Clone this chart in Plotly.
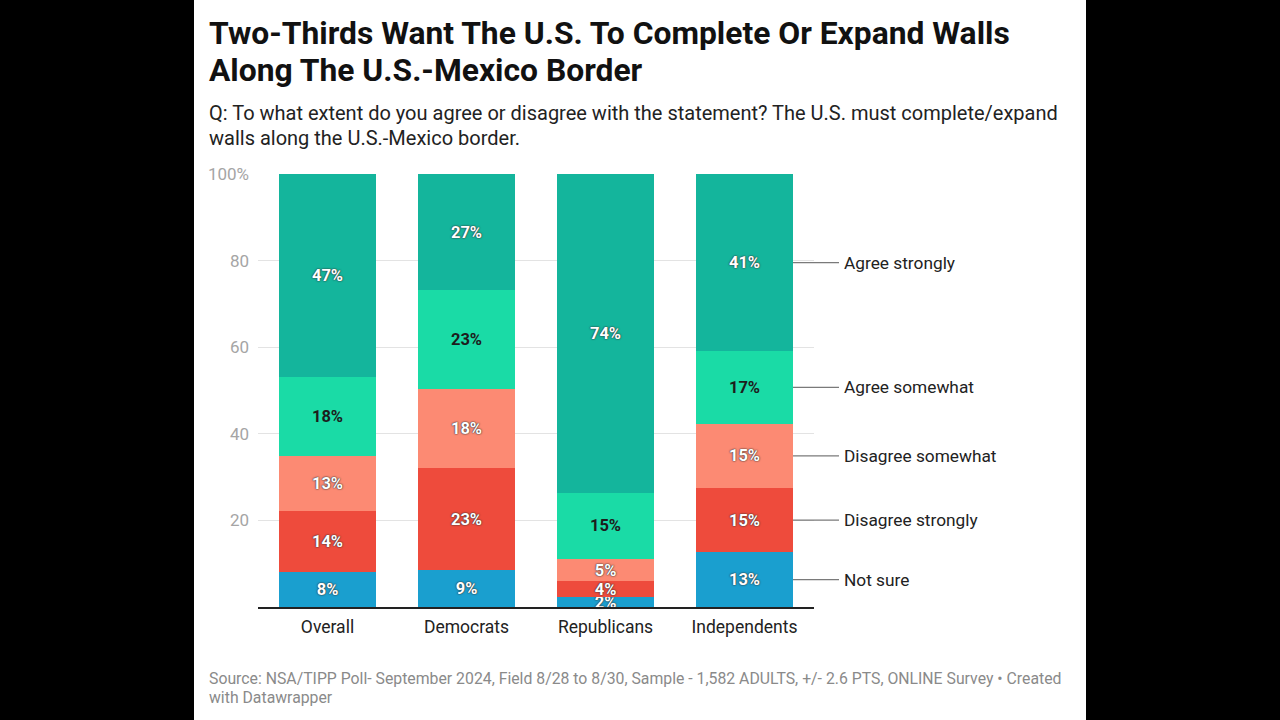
import plotly.graph_objects as go

categories = ["Overall", "Democrats", "Republicans", "Independents"]
series_names = ["Not sure", "Disagree strongly", "Disagree somewhat", "Agree somewhat", "Agree strongly"]
not_sure = [8.1, 8.6, 2.2, 12.6]
disagree_strongly = [14.1, 23.4, 3.7, 14.9]
disagree_somewhat = [12.7, 18.4, 5.2, 14.8]
agree_somewhat = [18.2, 22.8, 15.3, 16.8]
agree_strongly = [46.9, 26.8, 73.6, 40.9]
series_values = [not_sure, disagree_strongly, disagree_somewhat, agree_somewhat, agree_strongly]
colors = ["#1a9fcf", "#ee4b3c", "#fc8a73", "#1adba6", "#14b59c"]
text_colors = ["white", "white", "white", "#1d1d1d", "white"]
tick_vals = [20, 40, 60, 80, 100]
tick_text = ["20", "40", "60", "80", "100%"]

title_lines = ["Two-Thirds Want The U.S. To Complete Or Expand Walls", "Along The U.S.-Mexico Border"]
subtitle_lines = ["Q: To what extent do you agree or disagree with the statement? The U.S. must complete/expand",
                  "walls along the U.S.-Mexico border."]
source_lines = ["Source: NSA/TIPP Poll- September 2024, Field 8/28 to 8/30, Sample - 1,582 ADULTS, +/- 2.6 PTS, ONLINE Survey \u2022 Created",
                "with Datawrapper"]

W, H = 1280, 720
L, R, T, B = 258, 814, 174, 607
pw, ph = R - L, B - T
BARGAP = 0.302
XR = [-0.5, len(categories) - 0.5]

def px_x(p):
    return (p - L) / pw

def px_y(p):
    return (B - p) / ph

fig = go.Figure()
for name, vals, col, tcol in zip(series_names, series_values, colors, text_colors):
    fig.add_trace(go.Bar(
        x=categories, y=vals, name=name, marker=dict(color=col, line=dict(width=0)),
        texttemplate="%{y:.0f}%", textposition="inside", insidetextanchor="middle",
        textangle=0, constraintext="none", cliponaxis=False,
        textfont=dict(family="Roboto", size=16.5, color=tcol, weight=700,
                      shadow=("0px 0px 2px #333, 0px 0px 1px #333" if tcol == "white" else "none")),
        hoverinfo="skip",
    ))

shapes = [dict(type="rect", xref="paper", yref="paper", x0=px_x(194), x1=px_x(1086),
               y0=px_y(730), y1=px_y(-10), fillcolor="white", line=dict(width=0), layer="below")]
annotations = []

# right-side labels aligned to last category segments
last_idx = len(categories) - 1
bar_right = last_idx + (1 - BARGAP) / 2
bar_right_paper = (bar_right - XR[0]) / (XR[1] - XR[0])
cum = 0
for name, vals in zip(series_names, series_values):
    mid = cum + vals[-1] / 2
    cum += vals[-1]
    shapes.append(dict(type="line", xref="paper", yref="y", x0=bar_right_paper, x1=px_x(839), y0=mid, y1=mid,
                       line=dict(color="#7a7a7a", width=1.3)))
    annotations.append(dict(text=name, xref="paper", yref="y", x=px_x(842), y=mid, xanchor="left",
                            yanchor="middle", showarrow=False,
                            font=dict(family="Roboto", size=17.3, color="#222")))

def add_lines(lines, tops, size, color, bold=False):
    for line, top in zip(lines, tops):
        annotations.append(dict(text=(f"<b>{line}</b>" if bold else line), xref="paper", yref="paper",
                                x=px_x(207), y=px_y(top), xanchor="left", yanchor="top", align="left",
                                showarrow=False, font=dict(family="Roboto", size=size, color=color)))

add_lines(title_lines, [12, 49], 31.8, "#111", bold=True)
add_lines(subtitle_lines, [99, 124], 20, "#222")
add_lines(source_lines, [667, 686], 15.8, "#8a8a8a")

fig.update_layout(
    width=W, height=H, barmode="stack", bargap=BARGAP, showlegend=False,
    margin=dict(l=L, r=W - R, t=T, b=H - B, pad=0),
    paper_bgcolor="black", plot_bgcolor="white",
    shapes=shapes, annotations=annotations,
    font=dict(family="Roboto"),
    xaxis=dict(range=XR, showline=True, linecolor="#222", linewidth=1.5,
               ticks="", tickfont=dict(size=17.5, color="#222"), ticklabelstandoff=3,
               showgrid=False, fixedrange=True),
    yaxis=dict(range=[0, 100], tickvals=tick_vals, ticktext=tick_text, showgrid=True,
               gridcolor="#e3e3e3", gridwidth=1, zeroline=False, ticks="",
               tickfont=dict(size=17, color="#a5a5a5"), ticklabelstandoff=8, fixedrange=True),
)

fig.write_html("out.html", config={"displayModeBar": False})
